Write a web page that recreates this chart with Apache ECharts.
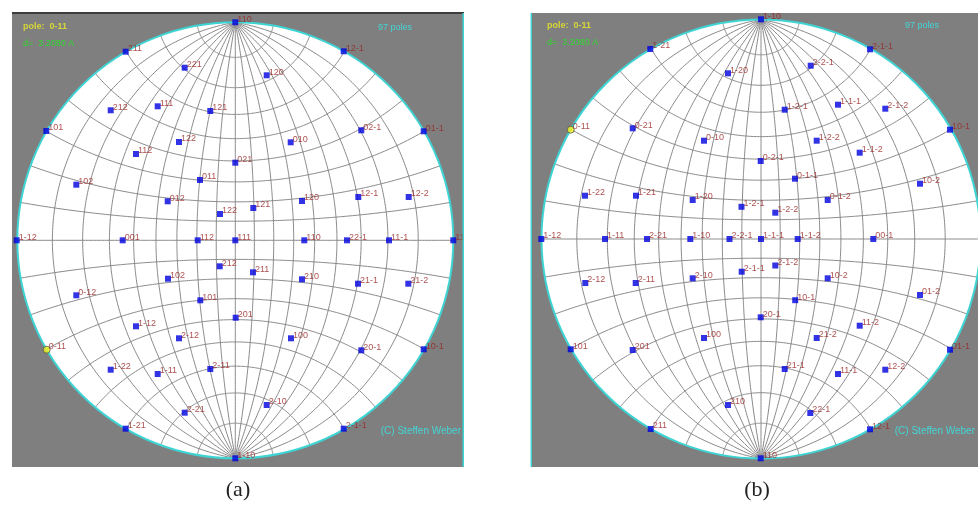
<!DOCTYPE html>
<html><head><meta charset="utf-8">
<script src="https://cdn.jsdelivr.net/npm/echarts/dist/echarts.min.js"></script>
<style>html,body{margin:0;padding:0;background:#fff}#c{width:978px;height:508px}</style>
</head><body><div id="c"></div>
<script>
// ---------- Panel (a): poles (projection offsets from centre, primitive radius 218, y up) ----------
const labelsA = ['110','1-10','211','221','212','111','121','101','122','112','021','102','011','012','122',
  '12-1','120','02-1','01-1','010','12-1','12-2','120','121',
  '1-12','001','112','111','110','22-1','11-1','11-2',
  '212','211','102','210','21-1','21-2','0-12','101','201','1-12','2-12','100','20-1','10-1',
  '1-22','1-11','2-11','2-10','2-21','1-21','2-1-1'];
const xA = [0,0,-109.6,-50.6,-124.6,-77.6,-25,-189,-56.3,-99.3,0,-159,-35.3,-67.6,-15.3,
  108.4,31.4,126,188.4,55.4,123,173.4,66.7,18,
  -218.6,-112.6,-37.6,0,69,111.7,153.7,218,
  -15.6,17.7,-67.3,66.7,122.7,173,-159,-35,0.4,-99.3,-56.3,55.7,126,188.4,
  -124.6,-77.6,-25,31.4,-50.6,-109.6,108.4];
const yA = [218,-218,188.6,172.6,130,134,129.3,109.3,98.3,86.3,77.6,55.6,60.3,39,26.3,
  189,165,110,109,98,43.3,43.3,39.3,32.3,
  0,0,0,0,0,0,0,0,
  -26,-32,-38.4,-39,-43.4,-43.4,-55,-60,-77.4,-86,-98,-98,-110,-109,
  -129.4,-133.7,-128.7,-164.7,-172.4,-188.4,-188.4];
const selLabelA = '0-11', selXA = -188.6, selYA = -109.4;

// ---------- Panel (b): poles (primitive radius 219.5) ----------
const labelsB = ['1-10','110','1-21','1-20','0-21','0-10','1-22','1-21','1-20','1-2-1',
  '2-1-1','2-2-1','1-2-1','1-1-1','2-1-2','10-1','1-2-2','1-1-2','0-2-1','0-1-1','10-2','0-1-2','1-2-2',
  '1-12','1-11','2-21','1-10','2-2-1','1-1-1','1-1-2','00-1',
  '2-1-1','2-1-2','2-12','2-11','2-10','10-2','01-2','10-1','20-1','100','21-2','11-2',
  '101','201','01-1','21-1','11-1','12-2','210','22-1','211','12-1'];
const xB = [0,-0.3,-110.7,-33,-128.3,-57,-176,-125,-68.3,-19.5,
  109,49.7,23.7,77,124.3,189,55.7,98.7,-0.3,34,159,66.7,14.3,
  -219.7,-156,-114,-70.7,-31.5,0,36.7,112.3,
  -19.3,14.3,-175.7,-125.3,-68.3,66.7,159,34.2,-0.3,-57,55.7,98.7,
  -190.3,-128.3,189,23.7,77,124.3,-33,49.3,-110.3,109];
const yB = [219.7,-219.3,190,165.7,110.7,98.3,43.3,43.3,39,32.2,
  189.7,173.3,129.3,134.3,130.3,109.3,98.3,86.3,78,60.3,55.3,39,26.3,
  0,0,0,0,0,0,0,0,
  -32.7,-26.5,-44,-44,-39.3,-39.3,-56,-61.2,-78.3,-99,-99,-86.7,
  -110.3,-111,-110.7,-130,-135,-130.7,-166,-174,-190,-190.3];
const selLabelB = '0-11', selXB = -190.3, selYB = 109.3;

// net spacing (degrees)
const netStep = [10];

const RA = 218, RB = 219.5;
const axA = {xmin:-223.3, xmax:228.7, ymin:-226.7, ymax:227.3};
const axB = {xmin:-230, xmax:217, ymin:-228, ymax:226};

function net(R, step){
  const lines = [];
  const d2r = Math.PI/180;
  function proj(phi, th){
    const x = Math.cos(phi)*Math.sin(th), y = Math.sin(phi), z = Math.cos(phi)*Math.cos(th);
    return [R*x/(1+z), R*y/(1+z)];
  }
  for (let t = -90+step; t < 90; t += step){
    const c = [];
    for (let p = -90; p <= 90; p += 1) c.push(proj(p*d2r, t*d2r));
    lines.push({coords:c});
  }
  for (let p = -90+step; p < 90; p += step){
    const c = [];
    for (let t = -90; t <= 90; t += 1) c.push(proj(p*d2r, t*d2r));
    lines.push({coords:c});
  }
  return lines;
}

const labelColor = '#9a2424';
function poleData(labels, xs, ys){
  return labels.map((l,i)=>({name:l, value:[xs[i], ys[i]]}));
}

function panelSeries(idx, R, labels, xs, ys, sel){
  const common = {xAxisIndex: idx, yAxisIndex: idx};
  return [
    Object.assign({type:'custom', data:[[0,0]], silent:true, z:1,
      renderItem:(p,api)=>{const c=api.coord([0,0]); const r=api.size([R,0])[0];
        return {type:'circle', shape:{cx:c[0], cy:c[1], r:r}, style:{fill:'#ffffff'}};}}, common),
    Object.assign({type:'lines', coordinateSystem:'cartesian2d', polyline:true, silent:true, z:2,
      lineStyle:{color:'#8a8a8a', width:1, opacity:1}, data: net(R, netStep[0])}, common),
    Object.assign({type:'custom', data:[[0,0]], silent:true, z:3,
      renderItem:(p,api)=>{const c=api.coord([0,0]); const r=api.size([R,0])[0];
        return {type:'circle', shape:{cx:c[0], cy:c[1], r:r}, style:{fill:null, stroke:'#3fd4d4', lineWidth:2}};}}, common),
    Object.assign({type:'scatter', symbol:'rect', symbolSize:6, z:4, silent:true,
      itemStyle:{color:'#0000e0'},
      label:{show:true, position:'right', distance:0, offset:[-1,-3], formatter:'{b}',
        color:labelColor, fontSize:9, fontFamily:'Liberation Sans, Arial, sans-serif'},
      data: poleData(labels, xs, ys)}, common),
    Object.assign({type:'scatter', symbol:'circle', symbolSize:7, z:5, silent:true,
      itemStyle:{color:'#f2f21a', borderColor:'#555', borderWidth:1},
      label:{show:true, position:'right', distance:0, offset:[-2,-3], formatter:'{b}',
        color:labelColor, fontSize:9, fontFamily:'Liberation Sans, Arial, sans-serif'},
      data:[{name:sel.l, value:[sel.x, sel.y]}]}, common)
  ];
}

const chart = echarts.init(document.getElementById('c'), null, {renderer:'canvas'});
const hdrFont = 'bold 9px Liberation Sans, Arial, sans-serif';
const smallFont = '9px Liberation Sans, Arial, sans-serif';
function txt(x,y,t,fill,font,align){
  return {type:'text', x:x, y:y, z:100, silent:true,
    style:{text:t, fill:fill, font:font, textAlign:align||'left', textVerticalAlign:'middle'}};
}
chart.setOption({
  animation:false,
  grid:[
    {left:12, top:13, width:452, height:454, show:true, backgroundColor:'#7f7f7f', borderWidth:0},
    {left:531, top:13, width:447, height:454, show:true, backgroundColor:'#7f7f7f', borderWidth:0}
  ],
  xAxis:[
    {type:'value', gridIndex:0, min:axA.xmin, max:axA.xmax, show:false},
    {type:'value', gridIndex:1, min:axB.xmin, max:axB.xmax, show:false}
  ],
  yAxis:[
    {type:'value', gridIndex:0, min:axA.ymin, max:axA.ymax, show:false},
    {type:'value', gridIndex:1, min:axB.ymin, max:axB.ymax, show:false}
  ],
  series: [].concat(
    panelSeries(0, RA, labelsA, xA, yA, {l:selLabelA, x:selXA, y:selYA}),
    panelSeries(1, RB, labelsB, xB, yB, {l:selLabelB, x:selXB, y:selYB})
  ),
  graphic:[
    // white gap between the two panels (clips labels that overflow panel a)
    {type:'rect', z:98, silent:true, shape:{x:464, y:0, width:66.5, height:470}, style:{fill:'#ffffff'}},
    {type:'rect', z:99, silent:true, shape:{x:12, y:12, width:452, height:2}, style:{fill:'#3c3c3c'}},
    {type:'rect', z:99, silent:true, shape:{x:462.5, y:13, width:1.5, height:454}, style:{fill:'#3fd4d4'}},
    {type:'rect', z:99, silent:true, shape:{x:530.5, y:13, width:1.5, height:454}, style:{fill:'#3fd4d4'}},
    txt(23, 27, 'pole:  0-11', '#d6d63a', hdrFont),
    txt(23, 44, 'd=  3.2080 A', '#2ed82e', smallFont),
    txt(378, 28, '97 poles', '#44d6d6', smallFont),
    txt(461, 431, '(C) Steffen Weber', '#44d6d6', '10px Liberation Sans, Arial, sans-serif', 'right'),
    txt(547, 26, 'pole:  0-11', '#d6d63a', hdrFont),
    txt(547, 43, 'd=  3.2080 A', '#2ed82e', smallFont),
    txt(905, 26, '97 poles', '#44d6d6', smallFont),
    txt(975, 431, '(C) Steffen Weber', '#44d6d6', '10px Liberation Sans, Arial, sans-serif', 'right'),
    txt(238, 490, '(a)', '#222222', '22px Liberation Serif, serif', 'center'),
    txt(757, 490, '(b)', '#222222', '22px Liberation Serif, serif', 'center')
  ]
});
</script></body></html>
